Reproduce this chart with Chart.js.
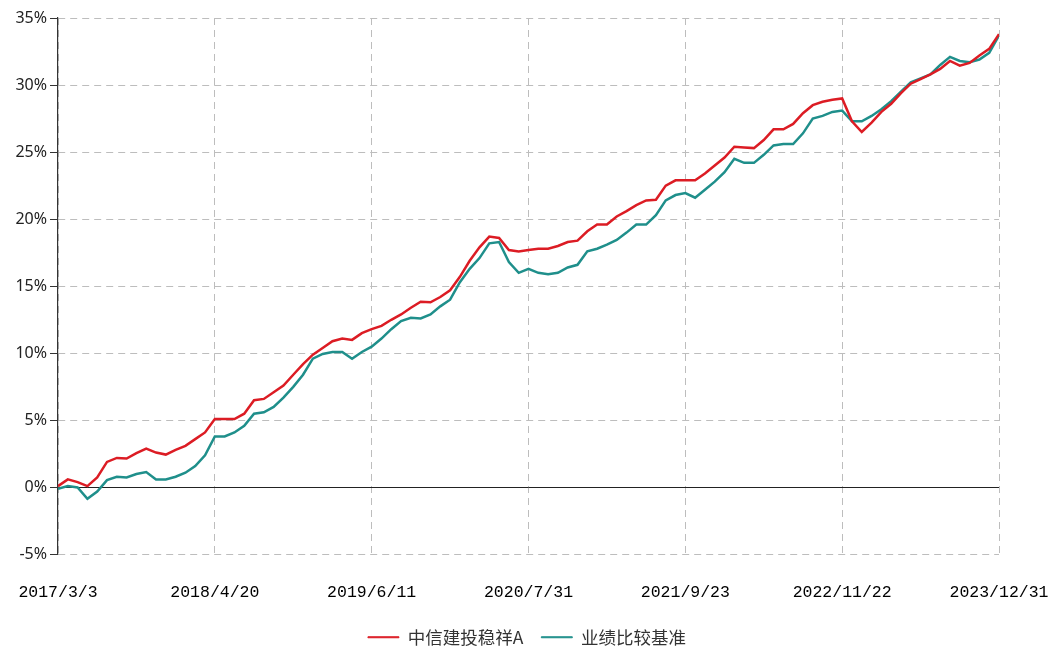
<!DOCTYPE html>
<html>
<head>
<meta charset="utf-8">
<script src="https://cdn.jsdelivr.net/npm/chart.js@4/dist/chart.umd.min.js"></script>
<style>
  html, body { margin: 0; padding: 0; background: #fff; }
  #wrap { width: 1054px; height: 652px; }
</style>
</head>
<body>
<div id="wrap"><canvas id="nav-chart"></canvas></div>
<script>
// 净值走势
const dateLabels = ["2017/3/3", "2018/4/20", "2019/6/11", "2020/7/31", "2021/9/23", "2022/11/22", "2023/12/31"];
const yTicks = [-5, 0, 5, 10, 15, 20, 25, 30, 35];

const fundValues = [
  0.1, 0.6, 0.4, 0.1, 0.75, 1.9, 2.2, 2.15, 2.55, 2.9, 2.6, 2.45, 2.8, 3.1, 3.6, 4.1,
  5.1, 5.1, 5.1, 5.5, 6.5, 6.6, 7.1, 7.6, 8.4, 9.2, 9.9, 10.4, 10.9, 11.1, 11.0, 11.5,
  11.8, 12.05, 12.5, 12.9, 13.4, 13.85, 13.8, 14.2, 14.7, 15.7, 16.9, 17.9, 18.7, 18.6, 17.7, 17.6,
  17.7, 17.8, 17.8, 18.0, 18.3, 18.4, 19.1, 19.6, 19.6, 20.2, 20.6, 21.05, 21.4, 21.45, 22.5, 22.9,
  22.9, 22.9, 23.4, 24.0, 24.6, 25.4, 25.35, 25.3, 25.9, 26.7, 26.7, 27.1, 27.9, 28.5, 28.75, 28.9,
  29.0, 27.3, 26.5, 27.2, 28.0, 28.6, 29.4, 30.1, 30.45, 30.8, 31.2, 31.8, 31.45, 31.65, 32.2, 32.7,
  33.8,
];

const benchValues = [
  -0.1, 0.1, 0.0, -0.85, -0.3, 0.55, 0.8, 0.75, 1.0, 1.15, 0.6, 0.6, 0.8, 1.1, 1.6, 2.4,
  3.8, 3.8, 4.1, 4.6, 5.5, 5.6, 6.0, 6.7, 7.5, 8.4, 9.6, 9.95, 10.1, 10.1, 9.6, 10.1,
  10.5, 11.1, 11.8, 12.4, 12.65, 12.6, 12.9, 13.5, 14.0, 15.3, 16.3, 17.1, 18.2, 18.3, 16.8, 16.0,
  16.3, 16.0, 15.9, 16.0, 16.4, 16.6, 17.6, 17.8, 18.1, 18.45, 19.0, 19.6, 19.6, 20.3, 21.4, 21.8,
  21.95, 21.6, 22.2, 22.8, 23.5, 24.5, 24.2, 24.2, 24.8, 25.5, 25.6, 25.6, 26.4, 27.5, 27.7, 28.0,
  28.1, 27.3, 27.3, 27.7, 28.2, 28.8, 29.5, 30.2, 30.5, 30.8, 31.5, 32.1, 31.8, 31.7, 31.9, 32.4,
  33.7,
];

const lastIdx = fundValues.length - 1;
const labelStep = lastIdx / (dateLabels.length - 1);

const toPoints = (arr) => arr.map((v, i) => ({ x: i, y: v }));

const navChart = document.getElementById("nav-chart");

new Chart(navChart, {
  type: "line",
  data: {
    datasets: [
      {
        label: "中信建投稳祥A",
        data: toPoints(fundValues),
        borderColor: "#dc1c24",
        backgroundColor: "#dc1c24",
        borderWidth: 2.5,
        pointRadius: 0,
        tension: 0,
      },
      {
        label: "业绩比较基准",
        data: toPoints(benchValues),
        borderColor: "#1f8f8b",
        backgroundColor: "#1f8f8b",
        borderWidth: 2.5,
        pointRadius: 0,
        tension: 0,
      },
    ],
  },
  options: {
    responsive: true,
    maintainAspectRatio: false,
    animation: false,
    layout: {
      padding: { top: 18, right: 0, left: 0, bottom: -4 },
    },
    plugins: {
      tooltip: { enabled: false },
      legend: {
        display: true,
        position: "bottom",
        labels: {
          boxWidth: 31,
          boxHeight: 1,
          padding: 18,
          color: "#333",
          font: { family: "Noto Sans CJK SC", size: 17.5 },
          generateLabels: function (chart) {
            const items = Chart.defaults.plugins.legend.labels.generateLabels(chart);
            items.forEach(function (it) { it.lineWidth = 1; });
            return items;
          },
        },
      },
    },
    scales: {
      x: {
        type: "linear",
        min: 0,
        max: lastIdx,
        afterFit: function (scale) {
          scale.height = 56;
          scale.paddingLeft = 0;
          scale.paddingRight = 55;
        },
        afterBuildTicks: function (scale) {
          scale.ticks = dateLabels.map((d, i) => ({ value: i * labelStep }));
        },
        ticks: {
          padding: 28,
          maxRotation: 0,
          autoSkip: false,
          color: "#000",
          font: { family: "Liberation Mono", size: 16.5 },
          callback: function (value) {
            return dateLabels[Math.round(value / labelStep)];
          },
        },
        grid: {
          color: "#bdbdbd",
          lineWidth: 1,
          drawTicks: false,
        },
        border: {
          display: false,
          dash: [7, 5],
        },
      },
      y: {
        min: -5,
        max: 35,
        afterFit: function (scale) { scale.width = 58; },
        afterBuildTicks: function (scale) {
          scale.ticks = yTicks.map((v) => ({ value: v }));
        },
        ticks: {
          padding: 3,
          color: "#222",
          font: { family: "Noto Sans", size: 16 },
          callback: function (value) { return value + "%"; },
        },
        grid: {
          color: function (ctx) {
            return ctx.tick && ctx.tick.value === 0 ? "#222" : "#bdbdbd";
          },
          lineWidth: 1,
          tickLength: 8,
          tickColor: "#333",
          tickBorderDash: [],
        },
        border: {
          display: true,
          color: "#333",
          width: 1.2,
          dash: function (ctx) {
            return ctx.tick && ctx.tick.value === 0 ? [] : [7, 5];
          },
        },
      },
    },
  },
});
</script>
</body>
</html>
